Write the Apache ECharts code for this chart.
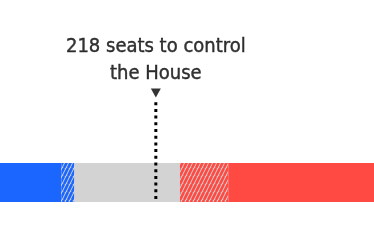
<!DOCTYPE html>
<html>
<head>
<meta charset="utf-8">
<script src="https://cdn.jsdelivr.net/npm/echarts@6/dist/echarts.min.js"></script>
<style>
html,body{margin:0;padding:0;background:#fff;}
#chart{width:374px;height:248px;}
</style>
</head>
<body>
<div id="chart"></div>
<script>
// Data (seats)
var categories = ['Solid D', 'Lean D', 'Toss-up', 'Lean R', 'Solid R'];
var seats = [124, 13, 105, 48, 145];
var majority = 218;
var majorityLabel = '218 seats to control\nthe House';
var totalSeats = 435;

var BLUE = '#1a66ff', GRAY = '#d3d3d3', RED = '#ff4a43';

function hatch(color) {
  var W = 4, H = 8;
  var c = document.createElement('canvas');
  c.width = W; c.height = H;
  var ctx = c.getContext('2d');
  ctx.fillStyle = GRAY;
  ctx.fillRect(0, 0, W, H);
  ctx.strokeStyle = color;
  ctx.lineWidth = 2.7;
  ctx.beginPath();
  for (var k = -1; k <= 1; k++) {
    ctx.moveTo(k * W, H);
    ctx.lineTo(k * W + W, 0);
  }
  ctx.stroke();
  return { image: c, repeat: 'repeat' };
}

var colors = [BLUE, hatch(BLUE), GRAY, hatch(RED), RED];

var chart = echarts.init(document.getElementById('chart'), null, { renderer: 'canvas' });

var barSeries = categories.map(function (name, i) {
  return {
    name: name,
    type: 'bar',
    stack: 'house',
    xAxisIndex: 0,
    yAxisIndex: 0,
    barWidth: 39,
    data: [seats[i]],
    itemStyle: { color: colors[i] },
    silent: true,
    animation: false
  };
});

chart.setOption({
  animation: false,
  grid: [
    { left: 0, right: 0, top: 163, height: 39 },
    { left: 0, right: 0, top: 100, height: 99 }
  ],
  xAxis: [
    { type: 'value', gridIndex: 0, min: 63, max: totalSeats, show: false },
    { type: 'value', gridIndex: 1, min: 63, max: totalSeats, show: false }
  ],
  yAxis: [
    { type: 'category', gridIndex: 0, data: ['House'], show: false },
    { type: 'value', gridIndex: 1, min: 0, max: 1, show: false }
  ],
  series: barSeries.concat([
    {
      type: 'line',
      xAxisIndex: 1,
      yAxisIndex: 1,
      data: [[majority, 0], [majority, 1]],
      symbol: 'none',
      z: 10,
      lineStyle: { color: '#000', width: 3, type: [3, 3.7], cap: 'butt' },
      silent: true
    },
    {
      type: 'scatter',
      xAxisIndex: 1,
      yAxisIndex: 1,
      data: [[majority, 1]],
      symbol: 'triangle',
      symbolRotate: 180,
      symbolSize: [10, 9],
      symbolOffset: [0, -7],
      itemStyle: { color: '#000' },
      z: 10,
      silent: true,
      label: {
        show: true,
        position: 'top',
        distance: 1,
        formatter: majorityLabel,
        fontFamily: "'DejaVu Sans Condensed'",
        fontSize: 20,
        lineHeight: 27,
        color: '#000',
        textBorderColor: '#000',
        textBorderWidth: 0.4,
        align: 'center'
      }
    }
  ])
});
</script>
</body>
</html>
